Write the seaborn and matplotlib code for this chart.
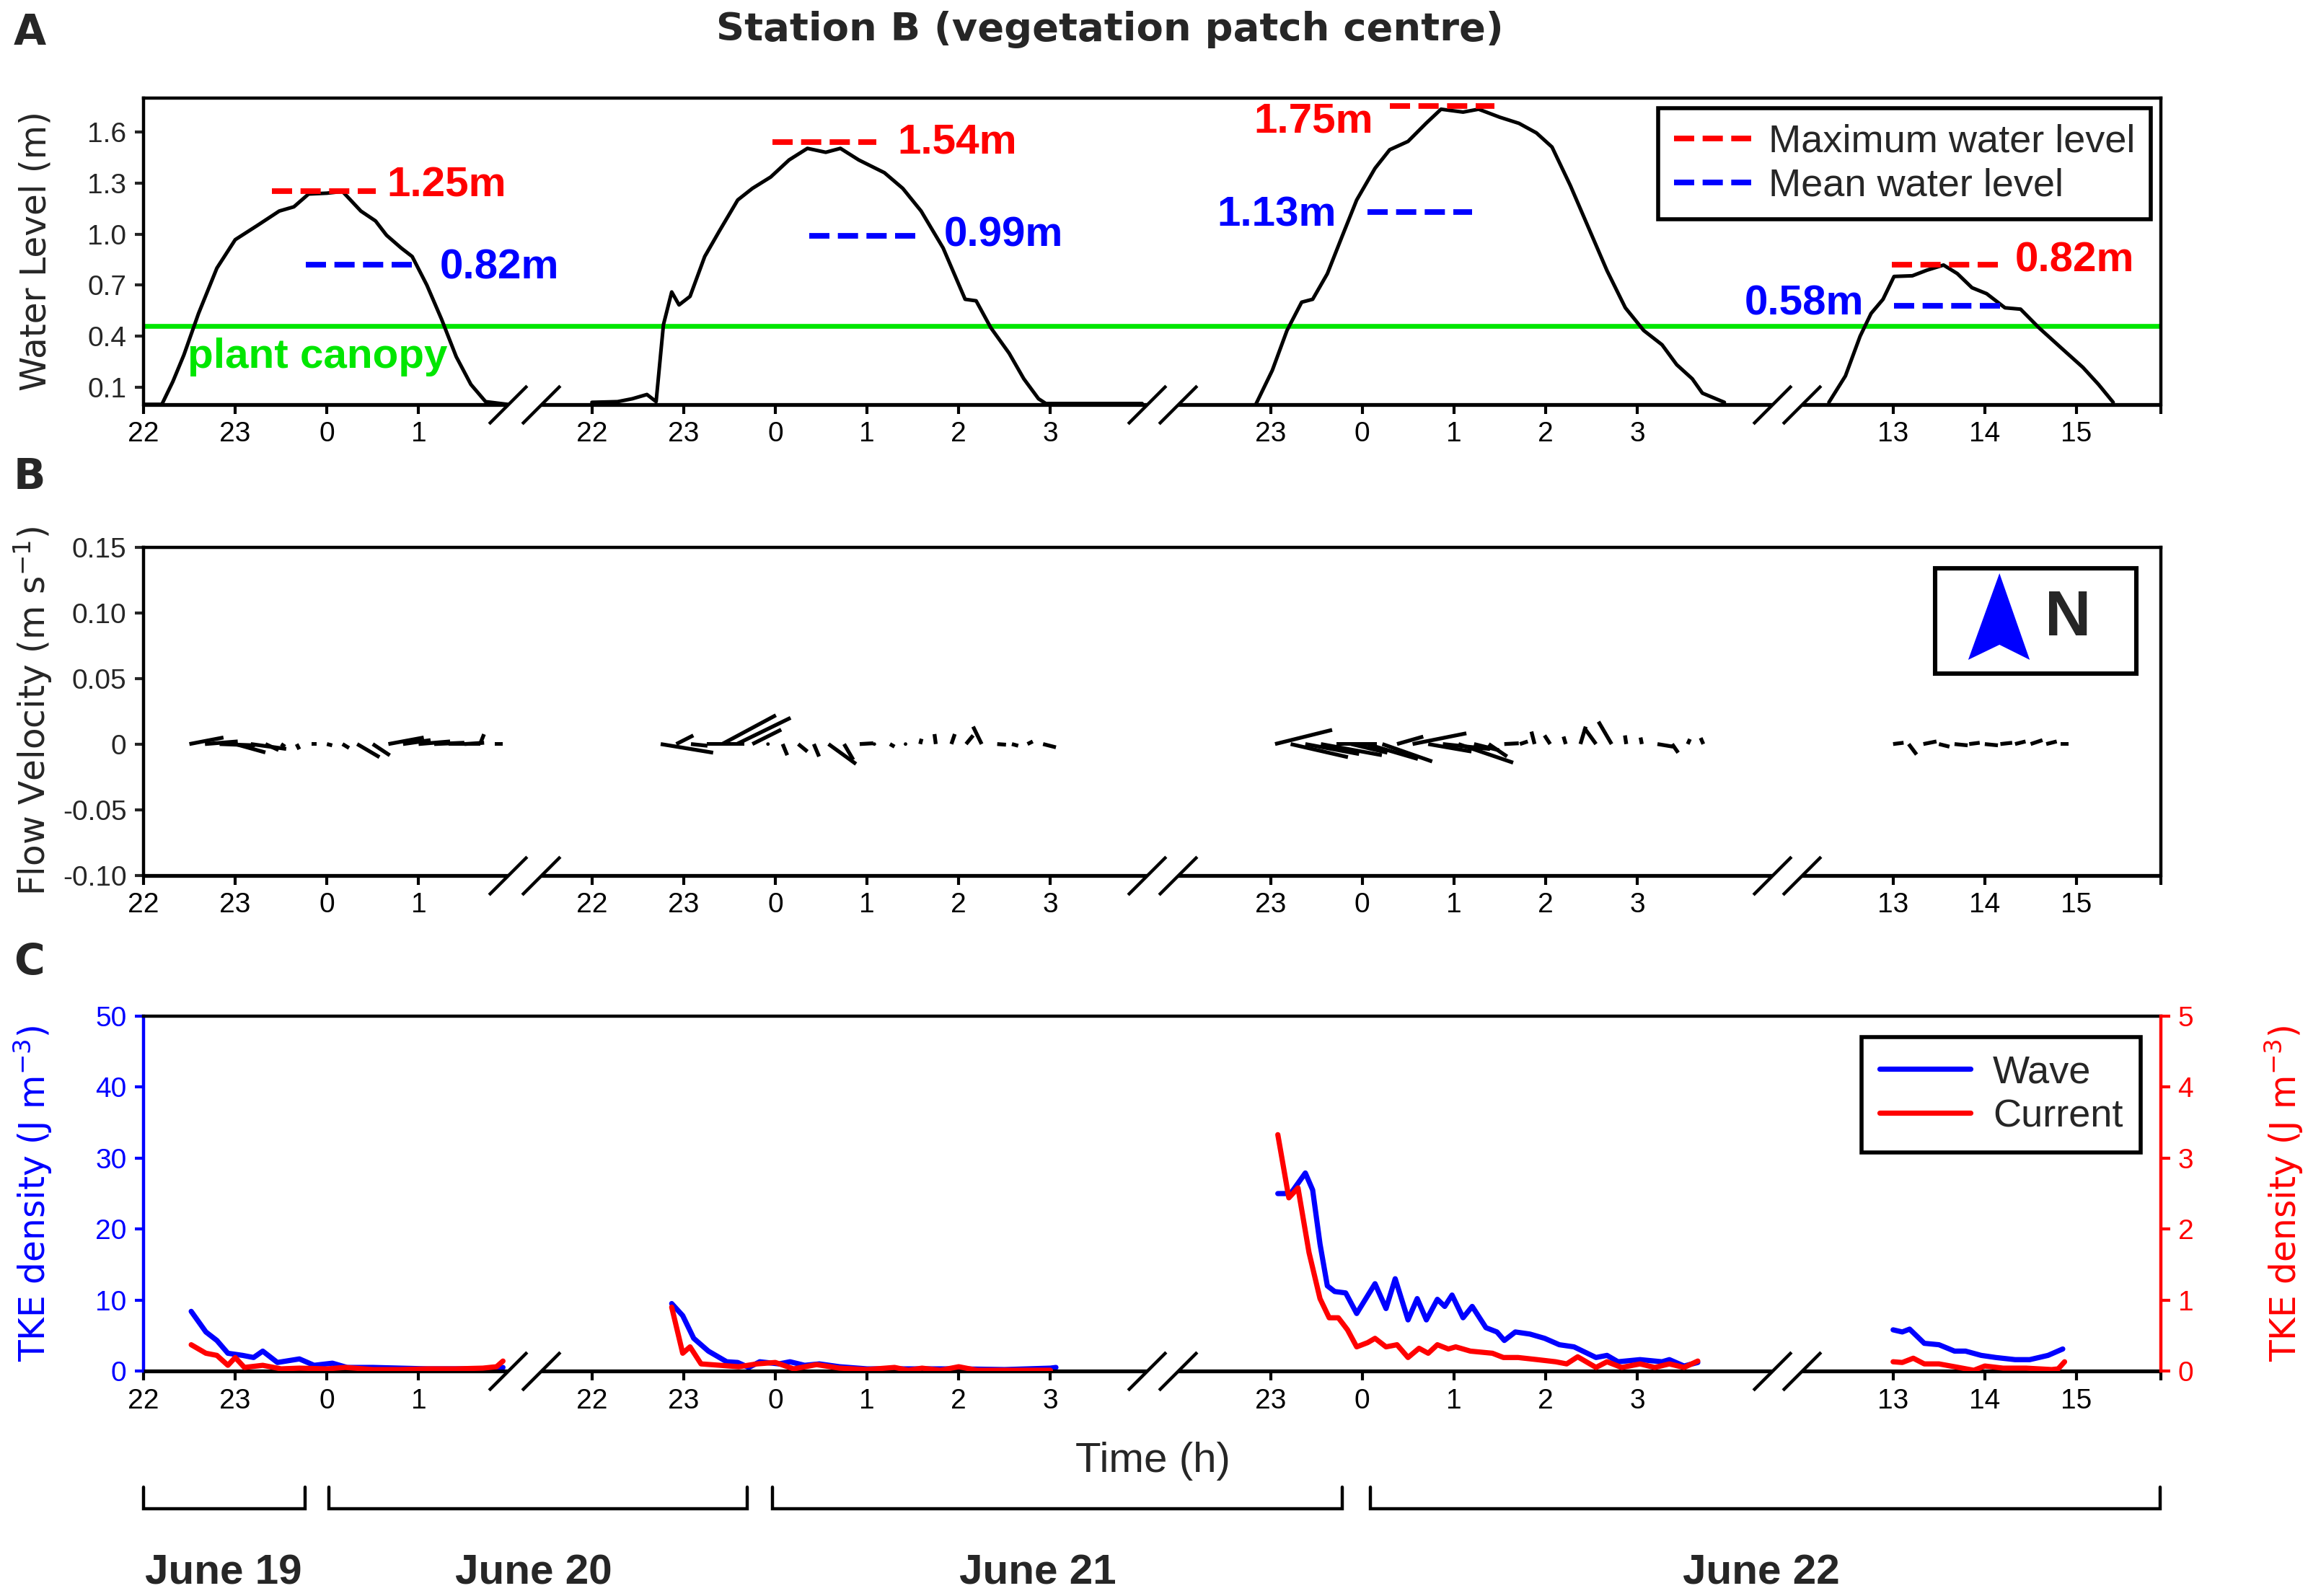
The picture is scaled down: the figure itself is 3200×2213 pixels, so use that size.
import numpy as np
import pandas as pd
import matplotlib
matplotlib.use("Agg")
import matplotlib.pyplot as plt
import matplotlib.transforms as mtransforms
from matplotlib.lines import Line2D
from matplotlib.patches import Polygon, Rectangle
import seaborn as sns

# ------------------------------------------------------------------ data
# Panel A: water level (m) per tidal segment, time in continuous hours
LEVEL1_H = [22.0, 22.2, 22.32, 22.44, 22.6, 22.8, 23.0, 23.24, 23.48, 23.64, 23.8, 24.0, 24.17,
            24.37, 24.53, 24.65, 24.81, 24.93, 25.09, 25.25, 25.41, 25.57, 25.73, 25.97]
LEVEL1_M = [0.0, 0.0, 0.134, 0.29, 0.534, 0.80, 0.967, 1.05, 1.135, 1.16, 1.235, 1.24, 1.25,
            1.135, 1.077, 0.993, 0.918, 0.868, 0.70, 0.50, 0.28, 0.117, 0.016, 0.0]
LEVEL2_H = [22.0, 22.28, 22.44, 22.6, 22.7, 22.78, 22.87, 22.95, 23.07, 23.23, 23.39, 23.59, 23.75,
            23.95, 24.15, 24.35, 24.55, 24.71, 24.91, 25.19, 25.39, 25.59, 25.83, 26.07, 26.19,
            26.35, 26.55, 26.71, 26.87, 26.95, 28.0]
LEVEL2_M = [0.012, 0.016, 0.033, 0.058, 0.016, 0.468, 0.66, 0.584, 0.634, 0.868, 1.018, 1.20, 1.268,
            1.335, 1.435, 1.503, 1.48, 1.503, 1.435, 1.36, 1.268, 1.135, 0.918, 0.617, 0.608,
            0.45, 0.30, 0.15, 0.033, 0.005, 0.005]
LEVEL3_H = [22.84, 23.02, 23.18, 23.34, 23.46, 23.62, 23.78, 23.94, 24.14, 24.30, 24.5, 24.7, 24.86,
            25.1, 25.27, 25.5, 25.71, 25.9, 26.07, 26.27, 26.47, 26.67, 26.87, 27.07, 27.27,
            27.43, 27.6, 27.71, 27.95]
LEVEL3_M = [0.0, 0.20, 0.434, 0.60, 0.617, 0.767, 0.985, 1.20, 1.386, 1.495, 1.544, 1.652, 1.733,
            1.716, 1.733, 1.686, 1.65, 1.594, 1.511, 1.285, 1.035, 0.785, 0.567, 0.434, 0.35,
            0.233, 0.15, 0.066, 0.012]
LEVEL4_H = [12.3, 12.48, 12.64, 12.76, 12.89, 13.01, 13.21, 13.37, 13.55, 13.70, 13.86, 14.02,
            14.22, 14.39, 14.59, 14.83, 15.07, 15.24, 15.4]
LEVEL4_M = [0.012, 0.167, 0.40, 0.534, 0.617, 0.751, 0.755, 0.788, 0.818, 0.768, 0.685, 0.65,
            0.567, 0.559, 0.45, 0.333, 0.217, 0.117, 0.012]

MAX_LEVEL = [1.25, 1.54, 1.75, 0.82]
MEAN_LEVEL = [0.82, 0.99, 1.13, 0.58]
CANOPY_HEIGHT = 0.462

# Panel B: flow velocity sticks (east u, north v, m/s)
STICK1_T = [22.50, 22.67, 22.83, 23.00, 23.17, 23.33, 23.50, 23.67, 23.83, 24.00, 24.17, 24.33,
            24.50, 24.67, 24.83, 25.00, 25.17, 25.33, 25.50, 25.67, 25.83]
STICK1_U = [0.026, 0.025, 0.027, 0.023, 0.027, 0.010, 0.003, 0.002, 0.004, 0.004, 0.005, 0.017,
            0.013, 0.027, 0.021, 0.024, 0.023, 0.024, 0.015, 0.003, 0.006]
STICK1_V = [0.005, 0.002, -0.001, -0.0064, -0.0037, -0.0046, -0.002, -0.004, 0.0, -0.001, -0.003,
            -0.010, -0.0086, 0.005, 0.003, 0.002, 0.001, 0.0, 0.001, 0.0075, 0.0]
STICK2_T = [22.75, 22.92, 23.08, 23.25, 23.42, 23.58, 23.75, 23.92, 24.08, 24.25, 24.42, 24.58,
            24.75, 24.92, 25.08, 25.25, 25.42, 25.58, 25.75, 25.92, 26.08, 26.25, 26.42, 26.58,
            26.75, 26.92]
STICK2_U = [0.040, 0.013, 0.0126, 0.029, 0.041, 0.041, 0.022, 0.002, 0.0035, 0.007, 0.004, 0.021,
            0.007, 0.0104, 0.002, 0.0035, 0.0015, 0.001, -0.001, 0.0026, 0.0054, -0.0065, 0.0067,
            0.0048, 0.004, 0.0098]
STICK2_V = [-0.0066, 0.0066, -0.0013, 0.0, 0.022, 0.020, 0.011, 0.0, -0.0085, -0.0057, -0.0095,
            -0.0152, -0.012, 0.0006, 0.002, -0.002, -0.002, 0.004, 0.0076, 0.0076, 0.0066, 0.0133,
            -0.0005, -0.0013, 0.002, -0.0025]
STICK3_T = [23.05, 23.22, 23.38, 23.55, 23.72, 23.88, 24.05, 24.22, 24.38, 24.55, 24.72, 24.88,
            25.05, 25.22, 25.38, 25.55, 25.72, 25.88, 26.05, 26.22, 26.38, 26.55, 26.72, 26.88,
            27.05, 27.22, 27.38, 27.55, 27.72]
STICK3_U = [0.0435, 0.0437, 0.041, 0.0465, 0.031, 0.0276, 0.039, 0.038, 0.020, 0.041, 0.033, 0.036,
            0.0417, 0.019, 0.014, 0.011, 0.006, -0.0024, -0.0043, -0.0017, 0.004, -0.0089, -0.010,
            -0.001, -0.001, 0.012, 0.0046, 0.0017, -0.002]
STICK3_V = [0.0108, -0.010, -0.0076, -0.0085, 0.0, -0.0066, -0.0114, -0.0133, 0.0057, 0.0082,
            -0.0057, -0.0038, -0.0142, -0.0047, -0.0095, 0.0006, 0.002, 0.0095, 0.0066, 0.0057,
            0.0133, 0.0123, 0.0171, 0.0066, 0.005, -0.002, -0.0066, 0.0038, 0.0047]
STICK4_T = [13.0, 13.17, 13.33, 13.5, 13.67, 13.83, 14.0, 14.17, 14.33, 14.5, 14.67, 14.83]
STICK4_U = [0.008, 0.006, 0.010, 0.008, 0.010, 0.008, 0.010, 0.009, 0.008, 0.009, 0.008, 0.006]
STICK4_V = [0.001, -0.008, 0.002, -0.002, -0.001, 0.001, -0.001, 0.001, 0.002, 0.003, 0.002, 0.0]

# Panel C: TKE density (J m-3): wave on left axis, current on right axis
WAVE1_H = [22.52, 22.68, 22.8, 22.92, 23.08, 23.2, 23.3, 23.46, 23.7, 23.86, 24.06, 24.22, 24.5,
           24.8, 25.1, 25.4, 25.7, 25.92]
WAVE1_E = [8.4, 5.5, 4.3, 2.5, 2.2, 1.9, 2.8, 1.2, 1.7, 0.8, 1.1, 0.5, 0.5, 0.4, 0.3, 0.3, 0.3, 0.5]
CURR1_H = [22.52, 22.68, 22.8, 22.92, 23.0, 23.1, 23.3, 23.5, 23.7, 24.0, 24.2, 24.5, 24.8, 25.1,
           25.4, 25.7, 25.85, 25.92]
CURR1_E = [0.37, 0.25, 0.22, 0.08, 0.19, 0.05, 0.08, 0.03, 0.04, 0.03, 0.05, 0.02, 0.02, 0.03,
           0.03, 0.04, 0.06, 0.14]
WAVE2_H = [22.87, 22.99, 23.11, 23.27, 23.47, 23.59, 23.71, 23.83, 24.04, 24.16, 24.32, 24.48,
           24.7, 25.0, 25.5, 26.0, 26.5, 27.0, 27.06]
WAVE2_E = [9.5, 7.8, 4.6, 2.8, 1.3, 1.2, 0.5, 1.3, 1.0, 1.3, 0.8, 1.0, 0.6, 0.3, 0.3, 0.3, 0.2,
           0.4, 0.5]
CURR2_H = [22.87, 22.99, 23.07, 23.19, 23.4, 23.6, 23.8, 24.0, 24.2, 24.45, 24.7, 25.0, 25.3,
           25.45, 25.6, 25.8, 26.0, 26.2, 26.5, 27.0]
CURR2_E = [0.90, 0.25, 0.34, 0.10, 0.08, 0.06, 0.10, 0.12, 0.03, 0.09, 0.04, 0.02, 0.05, 0.01,
           0.04, 0.01, 0.06, 0.01, 0.01, 0.01]
WAVE3_H = [23.08, 23.22, 23.38, 23.46, 23.54, 23.62, 23.7, 23.82, 23.94, 24.14, 24.26, 24.36,
           24.5, 24.6, 24.7, 24.82, 24.9, 24.98, 25.1, 25.2, 25.35, 25.47, 25.55, 25.67, 25.83,
           25.99, 26.15, 26.31, 26.55, 26.67, 26.79, 27.03, 27.27, 27.35, 27.51, 27.66]
WAVE3_E = [25.0, 25.0, 27.9, 25.5, 17.9, 12.0, 11.2, 11.0, 8.1, 12.3, 8.8, 13.0, 7.2, 10.2, 7.2,
           10.1, 9.1, 10.7, 7.5, 9.1, 6.1, 5.5, 4.3, 5.5, 5.2, 4.6, 3.7, 3.4, 1.9, 2.2, 1.3, 1.6,
           1.3, 1.6, 0.7, 1.2]
CURR3_H = [23.08, 23.2, 23.3, 23.42, 23.54, 23.64, 23.74, 23.84, 23.94, 24.06, 24.14, 24.26,
           24.38, 24.5, 24.62, 24.72, 24.82, 24.94, 25.02, 25.18, 25.42, 25.54, 25.7, 25.91,
           26.11, 26.23, 26.35, 26.55, 26.67, 26.83, 27.03, 27.19, 27.35, 27.51, 27.66]
CURR3_E = [3.33, 2.44, 2.58, 1.67, 1.02, 0.75, 0.75, 0.58, 0.34, 0.40, 0.46, 0.34, 0.37, 0.19,
           0.32, 0.25, 0.37, 0.31, 0.34, 0.28, 0.25, 0.19, 0.19, 0.16, 0.13, 0.10, 0.20, 0.05,
           0.13, 0.05, 0.10, 0.05, 0.10, 0.05, 0.14]
WAVE4_H = [13.0, 13.1, 13.18, 13.34, 13.5, 13.67, 13.79, 13.96, 14.12, 14.33, 14.49, 14.69, 14.85]
WAVE4_E = [5.8, 5.5, 5.9, 3.9, 3.7, 2.8, 2.8, 2.2, 1.9, 1.6, 1.6, 2.2, 3.1]
CURR4_H = [13.0, 13.1, 13.22, 13.34, 13.5, 13.67, 13.88, 14.0, 14.2, 14.45, 14.73, 14.8, 14.87]
CURR4_E = [0.13, 0.12, 0.18, 0.10, 0.10, 0.06, 0.01, 0.07, 0.04, 0.04, 0.02, 0.03, 0.13]

TICK_HOURS = [[22, 23, 24, 25], [22, 23, 24, 25, 26, 27], [23, 24, 25, 26, 27], [13, 14, 15]]
A_YTICKS = [0.1, 0.4, 0.7, 1.0, 1.3, 1.6]
A_YTICKLABELS = ["0.1", "0.4", "0.7", "1.0", "1.3", "1.6"]
B_YTICKS = [-0.10, -0.05, 0.0, 0.05, 0.10, 0.15]
B_YTICKLABELS = ["-0.10", "-0.05", "0", "0.05", "0.10", "0.15"]
C_YTICKS = [0, 10, 20, 30, 40, 50]
CR_YTICKS = [0, 1, 2, 3, 4, 5]
DAY_LABELS = ["June 19", "June 20", "June 21", "June 22"]

# ------------------------------------------------------------------ layout constants
SEG_BASE = [22, 22, 22, 13]
SEG_U0 = [0.0, 4.89, 11.29, 19.08]
AXIS_SEGMENTS = [(0.0, 3.97), (4.33, 10.94), (11.28, 17.76), (18.08, 22.0)]
XMAX = 22.0
MAX_DASH_U = [(1.40, 2.53), (6.86, 7.99), (13.59, 14.73), (19.07, 20.25)]
MEAN_DASH_U = [(1.77, 2.93), (7.26, 8.43), (13.35, 14.49), (19.09, 20.25)]
MAX_LABEL_POS = [(2.65, 1.285, "left"), (8.22, 1.54, "left"), (13.41, 1.66, "right"), (20.41, 0.845, "left")]
MEAN_LABEL_POS = [(3.23, 0.80, "left"), (8.73, 0.99, "left"), (13.01, 1.11, "right"), (18.76, 0.59, "right")]
BRACKETS = [(0.0, 1.76), (2.02, 6.58), (6.86, 13.07), (13.38, 21.99)]
DAY_X = [0.873, 4.256, 9.748, 17.64]

RED = "#ff0000"
BLUE = "#0000ff"
GREEN = "#00e600"


def to_u(h, s):
    return np.asarray(h, dtype=float) - SEG_BASE[s] + SEG_U0[s]


def seg_frame(hs, vs, name):
    rows = []
    for s, (h, v) in enumerate(zip(hs, vs)):
        rows.append(pd.DataFrame({"u": to_u(h, s), name: v, "seg": s}))
    return pd.concat(rows, ignore_index=True)


# ------------------------------------------------------------------ style
sns.set_style("white")
plt.rcParams["font.family"] = ["Liberation Sans", "DejaVu Sans"]
plt.rcParams["mathtext.fontset"] = "dejavusans"

fig = plt.figure(figsize=(16, 11.065), dpi=200)
W, H = 3200.0, 2213.0


def add_ax(top_px, bottom_px):
    return fig.add_axes([199 / W, 1 - bottom_px / H, 2797 / W, (bottom_px - top_px) / H])


axA = add_ax(135.6, 560.7)
axB = add_ax(759.0, 1213.5)
axC = add_ax(1409.0, 1901.0)

TICK_KW = dict(direction="out", length=4.5, width=1.5, pad=4, labelsize=14)
YLAB_KW = dict(fontsize=17.5, family=["DejaVu Sans"])


def center_label(ax, x):
    ax.yaxis.set_label_coords(x, 0.5)
    ax.yaxis.label.set_verticalalignment("center")
    ax.yaxis.label.set_horizontalalignment("center")


def style_axes(ax):
    ticks, labels = [], []
    for s, hrs in enumerate(TICK_HOURS):
        for h in hrs:
            ticks.append(float(to_u(h, s)))
            labels.append(str(h % 24))
    ticks.append(XMAX)
    labels.append("")
    ax.set_xticks(ticks)
    ax.set_xticklabels(labels)
    ax.set_xlim(0, XMAX)
    ax.set_xlabel("")
    ax.spines["bottom"].set_visible(False)
    for sp in ["left", "right", "top"]:
        ax.spines[sp].set_linewidth(1.6)
        ax.spines[sp].set_color("black")
    tr = ax.get_xaxis_transform()
    for a, b in AXIS_SEGMENTS:
        ax.plot([a, b], [0, 0], transform=tr, color="black", lw=1.9,
                solid_capstyle="butt", clip_on=False, zorder=6)
    brk = [b for a, b in AXIS_SEGMENTS[:-1]] + [a for a, b in AXIS_SEGMENTS[1:]]
    ax.plot(brk, [0] * len(brk), transform=tr, ls="none", marker=[(-1, -1), (1, 1)],
            ms=19, mew=1.6, mec="black", mfc="none", clip_on=False, zorder=7)
    ax.tick_params(axis="x", bottom=True, top=False, colors="black", **TICK_KW)
    ax.tick_params(axis="y", left=True, right=False, **TICK_KW)


# ------------------------------------------------------------------ panel A
dfA = seg_frame([LEVEL1_H, LEVEL2_H, LEVEL3_H, LEVEL4_H],
                [LEVEL1_M, LEVEL2_M, LEVEL3_M, LEVEL4_M], "level")
sns.lineplot(data=dfA, x="u", y="level", units="seg", estimator=None, sort=False,
             color="black", lw=1.8, ax=axA, legend=False)
axA.axhline(CANOPY_HEIGHT, color=GREEN, lw=2.4, zorder=1)
axA.text(0.48, 0.28, "plant canopy", color=GREEN, fontsize=21, fontweight="bold",
         ha="left", va="center")
dash = (0, (3.6, 1.5))
for i in range(4):
    a, b = MAX_DASH_U[i]
    axA.plot([a, b], [MAX_LEVEL[i]] * 2, color=RED, lw=2.8, linestyle=dash)
    a, b = MEAN_DASH_U[i]
    axA.plot([a, b], [MEAN_LEVEL[i]] * 2, color=BLUE, lw=2.8, linestyle=dash)
    x, y, ha = MAX_LABEL_POS[i]
    axA.text(x, y, f"{MAX_LEVEL[i]:.2f}m", color=RED, fontsize=21, fontweight="bold",
             ha=ha, va="center")
    x, y, ha = MEAN_LABEL_POS[i]
    axA.text(x, y, f"{MEAN_LEVEL[i]:.2f}m", color=BLUE, fontsize=21, fontweight="bold",
             ha=ha, va="center")
axA.set_ylim(0, 1.8)
axA.set_yticks(A_YTICKS)
axA.set_yticklabels(A_YTICKLABELS)
axA.set_ylabel("Water Level (m)", **YLAB_KW)
center_label(axA, -0.0533)
style_axes(axA)
legA = axA.legend(handles=[Line2D([], [], color=RED, lw=2.8, linestyle=dash),
                           Line2D([], [], color=BLUE, lw=2.8, linestyle=dash)],
                  labels=["Maximum water level", "Mean water level"],
                  loc="upper right", bbox_to_anchor=(0.995, 0.966), frameon=True,
                  fancybox=False, edgecolor="black", framealpha=1, fontsize=19.5,
                  handlelength=1.97, handletextpad=0.45, labelspacing=0.2,
                  borderpad=0.4, borderaxespad=0)
legA.get_frame().set_linewidth(2.0)

# ------------------------------------------------------------------ panel B
st_u, st_x, st_v = [], [], []
for s, (t, u, v) in enumerate([(STICK1_T, STICK1_U, STICK1_V), (STICK2_T, STICK2_U, STICK2_V),
                                (STICK3_T, STICK3_U, STICK3_V), (STICK4_T, STICK4_U, STICK4_V)]):
    st_x.extend(to_u(t, s))
    st_u.extend(u)
    st_v.extend(v)
axB.quiver(st_x, np.zeros(len(st_x)), st_u, st_v, angles="uv", scale_units="y", scale=1,
           headwidth=0, headlength=0, headaxislength=0, width=0.0019, color="black",
           pivot="tail", zorder=3)
axB.set_ylim(-0.10, 0.15)
axB.set_yticks(B_YTICKS)
axB.set_yticklabels(B_YTICKLABELS)
axB.set_ylabel(r"Flow Velocity (m s$^{-1}$)", **YLAB_KW)
center_label(axB, -0.0547)
style_axes(axB)
axB.add_patch(Rectangle((0.888, 0.615), 0.100, 0.321, transform=axB.transAxes,
                        facecolor="white", edgecolor="black", lw=2.2, zorder=4))
axB.add_patch(Polygon([(0.920, 0.921), (0.935, 0.657), (0.920, 0.703), (0.9045, 0.657)],
                      closed=True, transform=axB.transAxes, facecolor=BLUE,
                      edgecolor="none", zorder=5))
axB.text(0.954, 0.782, "N", transform=axB.transAxes, fontsize=32, fontweight="bold",
         ha="center", va="center", zorder=5)

# ------------------------------------------------------------------ panel C
dfW = seg_frame([WAVE1_H, WAVE2_H, WAVE3_H, WAVE4_H],
                [WAVE1_E, WAVE2_E, WAVE3_E, WAVE4_E], "tke")
dfCur = seg_frame([CURR1_H, CURR2_H, CURR3_H, CURR4_H],
                  [CURR1_E, CURR2_E, CURR3_E, CURR4_E], "tke")
sns.lineplot(data=dfW, x="u", y="tke", units="seg", estimator=None, sort=False,
             color=BLUE, lw=2.6, ax=axC, legend=False)
axC.set_ylim(0, 50)
axC.set_yticks(C_YTICKS)
axC.set_yticklabels([str(v) for v in C_YTICKS])
axC.set_ylabel(r"TKE density (J m$^{-3}$)", color=BLUE, **YLAB_KW)
center_label(axC, -0.0547)
style_axes(axC)
axC.spines["left"].set_color(BLUE)
axC.spines["right"].set_visible(False)
axC.tick_params(axis="y", colors=BLUE)

axR = axC.twinx()
sns.lineplot(data=dfCur, x="u", y="tke", units="seg", estimator=None, sort=False,
             color=RED, lw=2.6, ax=axR, legend=False)
axR.set_ylim(0, 5)
axR.set_xlim(0, XMAX)
axR.set_yticks(CR_YTICKS)
axR.set_yticklabels([str(v) for v in CR_YTICKS])
axR.set_ylabel(r"TKE density (J m$^{-3}$)", color=RED, rotation=90, **YLAB_KW)
center_label(axR, 1.061)
for sp in ["left", "top", "bottom"]:
    axR.spines[sp].set_visible(False)
axR.spines["right"].set_color(RED)
axR.spines["right"].set_linewidth(1.6)
axR.tick_params(axis="y", right=True, left=False, colors=RED, **TICK_KW)
legC = axR.legend(handles=[Line2D([], [], color=BLUE, lw=2.6), Line2D([], [], color=RED, lw=2.6)],
                  labels=["Wave", "Current"], loc="upper right",
                  bbox_to_anchor=(0.990, 0.941), frameon=True, fancybox=False,
                  edgecolor="black", framealpha=1, fontsize=19.5, handlelength=2.34,
                  handletextpad=0.57, labelspacing=0.2, borderpad=0.45, borderaxespad=0)
legC.get_frame().set_linewidth(2.0)

# ------------------------------------------------------------------ bottom annotations
trans = mtransforms.blended_transform_factory(axC.transData, fig.transFigure)
for a, b in BRACKETS:
    axC.plot([a, a, b, b], [0.0682, 0.0549, 0.0549, 0.0682], transform=trans, color="black",
             lw=1.6, clip_on=False, solid_joinstyle="miter")
for x, lab in zip(DAY_X, DAY_LABELS):
    axC.text(x, 0.0142, lab, transform=trans, fontsize=21, fontweight="bold",
             ha="center", va="center")
fig.text(0.4994, 0.0845, "Time (h)", fontsize=21, ha="center", va="center")

# ------------------------------------------------------------------ titles
fig.text(0.481, 0.9815, "Station B (vegetation patch centre)", fontsize=19.6,
         fontweight="bold", family=["DejaVu Sans"], ha="center", va="center")
for lab, yp in [("A", 46), ("B", 661), ("C", 1335)]:
    fig.text(41 / W, 1 - yp / H, lab, fontsize=21, fontweight="bold",
             family=["DejaVu Sans"], ha="center", va="center")

fig.savefig("out.png", dpi=200, facecolor="white")
